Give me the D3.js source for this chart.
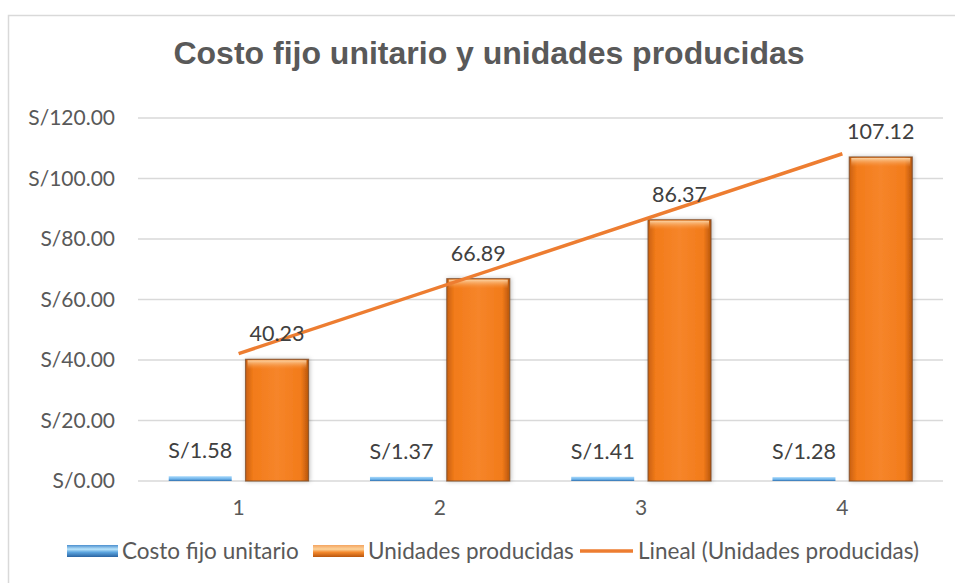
<!DOCTYPE html>
<html>
<head>
<meta charset="utf-8">
<script src="https://cdn.jsdelivr.net/npm/d3@7"></script>
<style>
  body { margin: 0; background: #fff; }
  svg { display: block; }
</style>
</head>
<body>
<div id="chart"></div>
<script>
(function(){

  var w = 955;
  var h = 583;

  // data
  var categories = ["1", "2", "3", "4"];
  var costoFijo = [1.58, 1.37, 1.41, 1.28];
  var unidades = [40.23, 66.89, 86.37, 107.12];
  var yTicks = [0, 20, 40, 60, 80, 100, 120];
  var seriesNames = ["Costo fijo unitario", "Unidades producidas", "Lineal (Unidades producidas)"];

  var textColor = "#595959";
  var labelColor = "#404040";
  var font = "Lato, 'Open Sans', sans-serif";

  var svg = d3.select("#chart")
    .append("svg")
    .attr("width", w)
    .attr("height", h);

  var defs = svg.append("defs");

  // orange bar gradient (dark edges, bright middle)
  var og = defs.append("linearGradient").attr("id", "orangeBar")
    .attr("x1", 0).attr("x2", 1).attr("y1", 0).attr("y2", 0);
  og.append("stop").attr("offset", "0%").attr("stop-color", "#c9600f");
  og.append("stop").attr("offset", "12%").attr("stop-color", "#f27b1a");
  og.append("stop").attr("offset", "50%").attr("stop-color", "#f6852a");
  og.append("stop").attr("offset", "88%").attr("stop-color", "#f27b1a");
  og.append("stop").attr("offset", "100%").attr("stop-color", "#b8560c");

  var oTop = defs.append("linearGradient").attr("id", "orangeTop")
    .attr("x1", 0).attr("x2", 0).attr("y1", 0).attr("y2", 1);
  oTop.append("stop").attr("offset", "0%").attr("stop-color", "#fbd3a3");
  oTop.append("stop").attr("offset", "100%").attr("stop-color", "#f7923f").attr("stop-opacity", 0);

  var bg = defs.append("linearGradient").attr("id", "blueBar")
    .attr("x1", 0).attr("x2", 0).attr("y1", 0).attr("y2", 1);
  bg.append("stop").attr("offset", "0%").attr("stop-color", "#a9d9fb");
  bg.append("stop").attr("offset", "60%").attr("stop-color", "#6db3ea");
  bg.append("stop").attr("offset", "100%").attr("stop-color", "#2f6fae");

  var lgO = defs.append("linearGradient").attr("id", "legOrange")
    .attr("x1", 0).attr("x2", 0).attr("y1", 0).attr("y2", 1);
  lgO.append("stop").attr("offset", "0%").attr("stop-color", "#f4a460");
  lgO.append("stop").attr("offset", "35%").attr("stop-color", "#fcd39b");
  lgO.append("stop").attr("offset", "60%").attr("stop-color", "#f58a2e");
  lgO.append("stop").attr("offset", "100%").attr("stop-color", "#b9560e");

  var lgB = defs.append("linearGradient").attr("id", "legBlue")
    .attr("x1", 0).attr("x2", 0).attr("y1", 0).attr("y2", 1);
  lgB.append("stop").attr("offset", "0%").attr("stop-color", "#4b8fcf");
  lgB.append("stop").attr("offset", "35%").attr("stop-color", "#b9e4fb");
  lgB.append("stop").attr("offset", "60%").attr("stop-color", "#5da6e0");
  lgB.append("stop").attr("offset", "100%").attr("stop-color", "#2a64a2");

  var shadow = defs.append("filter").attr("id", "shadow")
    .attr("x", "-20%").attr("y", "-10%").attr("width", "140%").attr("height", "120%");
  shadow.append("feDropShadow").attr("dx", 1).attr("dy", 0).attr("stdDeviation", 2)
    .attr("flood-color", "#000").attr("flood-opacity", 0.25);

  // chart frame
  svg.append("rect")
    .attr("x", 8.5).attr("y", 15.5)
    .attr("width", 960).attr("height", 600)
    .style("fill", "#fff")
    .style("stroke", "#d9d9d9")
    .style("stroke-width", 1.5);

  svg.append("text")
    .attr("x", 489).attr("y", 64)
    .attr("text-anchor", "middle")
    .style("font-family", "'Liberation Sans', Arial, sans-serif")
    .style("font-weight", "bold")
    .style("font-size", "32px")
    .style("fill", textColor)
    .text("Costo fijo unitario y unidades producidas");

  var x = d3.scaleBand()
    .domain(categories)
    .range([138, 943]);

  var xInner = d3.scaleBand()
    .domain([0, 1])
    .range([0, x.bandwidth()])
    .paddingInner(0.18)
    .paddingOuter(0.4);

  var y = d3.scaleLinear()
    .domain([0, 120])
    .range([481, 118]);

  // gridlines
  svg.append("g")
    .selectAll("line")
    .data(yTicks)
    .enter()
    .append("line")
    .attr("x1", 138).attr("x2", 943)
    .attr("y1", function(d){ return y(d); })
    .attr("y2", function(d){ return y(d); })
    .style("stroke", "#d9d9d9")
    .style("stroke-width", 1.5);

  // y axis labels
  var yAxis = d3.axisLeft(y)
    .tickValues(yTicks)
    .tickSize(0)
    .tickPadding(0)
    .tickFormat(function(d){ return "S/" + d3.format(".2f")(d); });

  svg.append("g")
    .attr("transform", "translate(115,0)")
    .call(yAxis)
    .call(function(g){ g.select(".domain").remove(); })
    .selectAll("text")
    .style("font-family", font)
    .style("font-size", "21px")
    .style("fill", textColor);

  // x axis labels
  var xAxis = d3.axisBottom(x).tickSize(0).tickPadding(0);
  svg.append("g")
    .attr("transform", "translate(0,500)")
    .call(xAxis)
    .call(function(g){ g.select(".domain").remove(); })
    .selectAll("text")
    .style("font-family", font)
    .style("font-size", "21px")
    .style("fill", textColor);

  // blue bars
  var blue = svg.append("g");
  blue.selectAll("rect")
    .data(costoFijo)
    .enter()
    .append("rect")
    .attr("x", function(d, i){ return x(categories[i]) + xInner(0); })
    .attr("y", function(d){ return y(d); })
    .attr("width", xInner.bandwidth())
    .attr("height", function(d){ return y(0) - y(d); })
    .style("fill", "url(#blueBar)");

  // orange bars
  var orange = svg.append("g");
  orange.selectAll("rect.bar")
    .data(unidades)
    .enter()
    .append("rect")
    .attr("class", "bar")
    .attr("x", function(d, i){ return x(categories[i]) + xInner(1); })
    .attr("y", function(d){ return y(d); })
    .attr("width", xInner.bandwidth())
    .attr("height", function(d){ return y(0) - y(d); })
    .style("fill", "url(#orangeBar)")
    .style("stroke", "#7a4a2a")
    .style("stroke-opacity", 0.75)
    .style("stroke-width", 1.2)
    .attr("filter", "url(#shadow)");

  orange.selectAll("rect.hl")
    .data(unidades)
    .enter()
    .append("rect")
    .attr("class", "hl")
    .attr("x", function(d, i){ return x(categories[i]) + xInner(1) + 2; })
    .attr("y", function(d){ return y(d) + 1; })
    .attr("width", xInner.bandwidth() - 4)
    .attr("height", 9)
    .style("fill", "url(#orangeTop)");

  // trendline (least squares on unidades)
  var xs = d3.range(1, unidades.length + 1);
  var mx = d3.mean(xs), my = d3.mean(unidades);
  var slope = d3.sum(xs, function(v, i){ return (v - mx) * (unidades[i] - my); }) /
              d3.sum(xs, function(v){ return (v - mx) * (v - mx); });
  var icpt = my - slope * mx;
  var trend = [xs[0], xs[xs.length - 1]].map(function(v){
    return { cat: categories[v - 1], val: icpt + slope * v };
  });

  svg.append("path")
    .datum(trend)
    .attr("d", d3.line()
      .x(function(d){ return x(d.cat) + x.bandwidth() / 2; })
      .y(function(d){ return y(d.val); }))
    .style("fill", "none")
    .style("stroke", "#ed7d31")
    .style("stroke-width", 3.5);

  // data labels
  svg.append("g")
    .selectAll("text")
    .data(costoFijo)
    .enter()
    .append("text")
    .attr("x", function(d, i){ return x(categories[i]) + xInner(0) + xInner.bandwidth() / 2; })
    .attr("y", function(d){ return y(d) - 18; })
    .attr("text-anchor", "middle")
    .style("font-family", font)
    .style("font-size", "21.5px")
    .style("fill", labelColor)
    .text(function(d){ return "S/" + d3.format(".2f")(d); });

  svg.append("g")
    .selectAll("text")
    .data(unidades)
    .enter()
    .append("text")
    .attr("x", function(d, i){ return x(categories[i]) + xInner(1) + xInner.bandwidth() / 2; })
    .attr("y", function(d){ return y(d) - 18; })
    .attr("text-anchor", "middle")
    .style("font-family", font)
    .style("font-size", "21.5px")
    .style("fill", labelColor)
    .text(function(d){ return d3.format(".2f")(d); });

  // legend
  var legend = svg.append("g").attr("transform", "translate(0,551)");
  var legItems = [
    { x: 67, type: "blue" },
    { x: 313, type: "orange" },
    { x: 580, type: "line" }
  ];
  legItems.forEach(function(it, i){
    var g = legend.append("g").attr("transform", "translate(" + it.x + ",0)");
    if (it.type === "line") {
      g.append("line")
        .attr("x1", 0).attr("x2", 53).attr("y1", 0).attr("y2", 0)
        .style("stroke", "#ed7d31").style("stroke-width", 3.5);
    } else {
      g.append("rect")
        .attr("x", 0).attr("y", -6)
        .attr("width", 51).attr("height", 12)
        .style("fill", it.type === "blue" ? "url(#legBlue)" : "url(#legOrange)");
    }
    g.append("text")
      .attr("x", it.type === "line" ? 58 : 55)
      .attr("y", 0)
      .attr("dy", "0.35em")
      .style("font-family", font)
      .style("font-size", "22.5px")
      .style("fill", textColor)
      .text(seriesNames[i]);
  });

})();
</script>
</body>
</html>
